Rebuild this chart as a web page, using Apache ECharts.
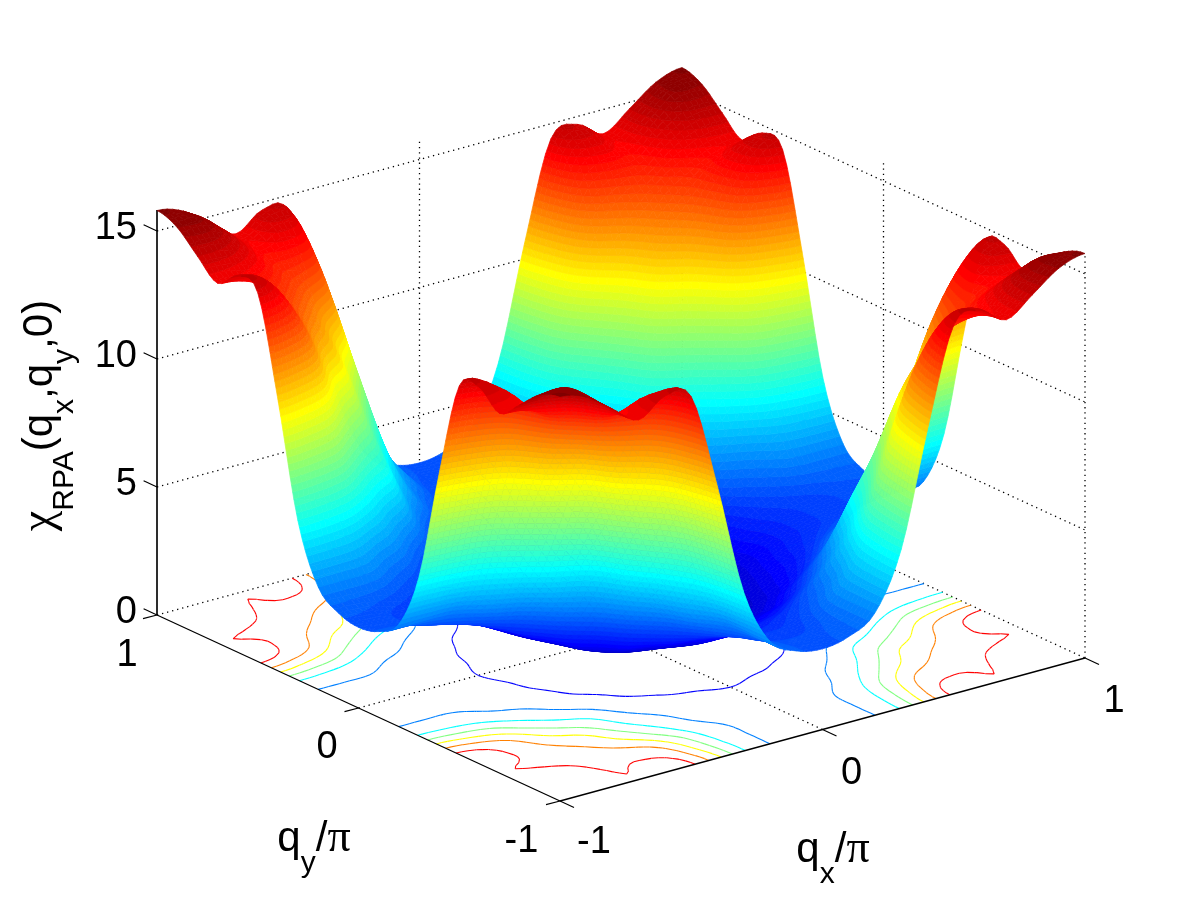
<!DOCTYPE html>
<html><head><meta charset="utf-8">
<style>html,body{margin:0;padding:0;background:#fff}#c{width:1200px;height:900px}</style>
<script src="https://cdn.jsdelivr.net/npm/echarts@6/dist/echarts.min.js"></script>
</head><body><div id="c"></div>
<script>
const qValues=[-1,-0.9,-0.8,-0.7,-0.6,-0.5,-0.4,-0.3,-0.2,-0.1,0,0.1,0.2,0.3,0.4,0.5,0.6,0.7,0.8,0.9,1];
const qTicks=[-1,0,1];
const zTicks=[0,5,10,15];
const contourLevels=[2,4,6,8,10,12,14];
const row00=[15.8,15.5,14.75,14.05,14.7,14.4,10.6,6.2,4.0,3.35,3.15,3.35,4.0,6.2,10.6,14.4,14.7,14.05,14.75,15.5,15.8];
const row01=[15.5,15.5,14.7,13.9,14.3,13.6,9.9,6.0,4.0,3.3,3.1,3.3,4.0,6.0,9.9,13.6,14.3,13.9,14.7,15.5,15.5];
const row02=[14.75,14.7,14.2,13.4,13.0,11.9,8.8,5.5,3.95,3.05,2.9,3.05,3.95,5.5,8.8,11.9,13.0,13.4,14.2,14.7,14.75];
const row03=[14.05,13.9,13.4,12.7,11.4,9.4,6.8,4.5,3.4,2.8,2.7,2.8,3.4,4.5,6.8,9.4,11.4,12.7,13.4,13.9,14.05];
const row04=[14.7,14.3,13.0,11.4,10.0,7.5,5.2,3.8,2.85,2.45,2.3,2.45,2.85,3.8,5.2,7.5,10.0,11.4,13.0,14.3,14.7];
const row05=[14.4,13.6,11.9,9.4,7.5,6.0,4.0,2.8,2.15,1.95,1.75,1.95,2.15,2.8,4.0,6.0,7.5,9.4,11.9,13.6,14.4];
const row06=[10.6,9.9,8.8,6.8,5.2,4.0,2.9,1.9,1.6,1.35,1.2,1.35,1.6,1.9,2.9,4.0,5.2,6.8,8.8,9.9,10.6];
const row07=[6.2,6.0,5.5,4.5,3.8,2.8,1.9,1.4,1.05,0.9,0.8,0.9,1.05,1.4,1.9,2.8,3.8,4.5,5.5,6.0,6.2];
const row08=[4.0,4.0,3.95,3.4,2.85,2.15,1.6,1.05,0.7,0.55,0.5,0.55,0.7,1.05,1.6,2.15,2.85,3.4,3.95,4.0,4.0];
const row09=[3.35,3.3,3.05,2.8,2.45,1.95,1.35,0.9,0.55,0.35,0.3,0.35,0.55,0.9,1.35,1.95,2.45,2.8,3.05,3.3,3.35];
const row10=[3.15,3.1,2.9,2.7,2.3,1.75,1.2,0.8,0.5,0.3,0.2,0.3,0.5,0.8,1.2,1.75,2.3,2.7,2.9,3.1,3.15];
const row11=[3.35,3.3,3.05,2.8,2.45,1.95,1.35,0.9,0.55,0.35,0.3,0.35,0.55,0.9,1.35,1.95,2.45,2.8,3.05,3.3,3.35];
const row12=[4.0,4.0,3.95,3.4,2.85,2.15,1.6,1.05,0.7,0.55,0.5,0.55,0.7,1.05,1.6,2.15,2.85,3.4,3.95,4.0,4.0];
const row13=[6.2,6.0,5.5,4.5,3.8,2.8,1.9,1.4,1.05,0.9,0.8,0.9,1.05,1.4,1.9,2.8,3.8,4.5,5.5,6.0,6.2];
const row14=[10.6,9.9,8.8,6.8,5.2,4.0,2.9,1.9,1.6,1.35,1.2,1.35,1.6,1.9,2.9,4.0,5.2,6.8,8.8,9.9,10.6];
const row15=[14.4,13.6,11.9,9.4,7.5,6.0,4.0,2.8,2.15,1.95,1.75,1.95,2.15,2.8,4.0,6.0,7.5,9.4,11.9,13.6,14.4];
const row16=[14.7,14.3,13.0,11.4,10.0,7.5,5.2,3.8,2.85,2.45,2.3,2.45,2.85,3.8,5.2,7.5,10.0,11.4,13.0,14.3,14.7];
const row17=[14.05,13.9,13.4,12.7,11.4,9.4,6.8,4.5,3.4,2.8,2.7,2.8,3.4,4.5,6.8,9.4,11.4,12.7,13.4,13.9,14.05];
const row18=[14.75,14.7,14.2,13.4,13.0,11.9,8.8,5.5,3.95,3.05,2.9,3.05,3.95,5.5,8.8,11.9,13.0,13.4,14.2,14.7,14.75];
const row19=[15.5,15.5,14.7,13.9,14.3,13.6,9.9,6.0,4.0,3.3,3.1,3.3,4.0,6.0,9.9,13.6,14.3,13.9,14.7,15.5,15.5];
const row20=[15.8,15.5,14.75,14.05,14.7,14.4,10.6,6.2,4.0,3.35,3.15,3.35,4.0,6.2,10.6,14.4,14.7,14.05,14.75,15.5,15.8];
const chiRows=[row00,row01,row02,row03,row04,row05,row06,row07,row08,row09,row10,row11,row12,row13,row14,row15,row16,row17,row18,row19,row20];

const FONT='"Liberation Sans", Arial, sans-serif';
const ZTOP=15.82, CMAX=16;
const C0=[621,636.5], EX=[262.5,-71.5], EY=[-201.5,-93], EZ=-25.6;
function proj(qx,qy,z){return [C0[0]+qx*EX[0]+qy*EY[0], C0[1]+qx*EX[1]+qy*EY[1]+z*EZ];}

function jet(k0){const k=k0+1;const u=i=>i<1||i>47?0:(i<=16?i/16:(i<=31?1:(48-i)/16));
  return 'rgb('+Math.round(255*u(k-24))+','+Math.round(255*u(k-8))+','+Math.round(255*u(k+8))+')';}
const jetCache=[];for(let k=0;k<64;k++)jetCache.push(jet(k));

// smooth drawing mesh through the table values (drawing refinement only)
const SUB=5,N=qValues.length-1,M=N*SUB;
function cr(p0,p1,p2,p3,t){return 0.5*(2*p1+(p2-p0)*t+(2*p0-5*p1+4*p2-p3)*t*t+(3*p1-p0-3*p2+p3)*t*t*t);}
function sample(arr,s){const i=Math.min(Math.floor(s),arr.length-2),t=s-i;
  const a=i>0?arr[i-1]:arr[1],b=arr[i],c=arr[i+1],d=i+2<arr.length?arr[i+2]:arr[arr.length-2];return cr(a,b,c,d,t);}
const tmp=chiRows.map(r=>{const o=[];for(let j=0;j<=M;j++)o.push(sample(r,j/SUB));return o;});
const fine=[];for(let i=0;i<=M;i++){const o=[];for(let j=0;j<=M;j++){o.push(sample(tmp.map(r=>r[j]),i/SUB));}fine.push(o);}
const fq=i=>-1+i/M*2;

function clip(poly,level,above){const out=[];for(let i=0;i<poly.length;i++){const a=poly[i],b=poly[(i+1)%poly.length];
  const ia=above?a[2]>=level:a[2]<=level, ib=above?b[2]>=level:b[2]<=level;
  if(ia)out.push(a);
  if(ia!==ib){const t=(level-a[2])/(b[2]-a[2]);out.push([a[0]+(b[0]-a[0])*t,a[1]+(b[1]-a[1])*t,level]);}}
  return out;}

const cells=[];for(let i=N-1;i>=0;i--)for(let j=N-1;j>=0;j--)cells.push([i,j]);

function renderSurface(params,api){
  const ci=api.value(0),cj=api.value(1);const children=[];const dz=CMAX/64;
  for(let a=SUB-1;a>=0;a--)for(let b=SUB-1;b>=0;b--){
    const i=ci*SUB+a,j=cj*SUB+b;
    const quad=[[fq(i),fq(j),fine[i][j]],[fq(i+1),fq(j),fine[i+1][j]],[fq(i+1),fq(j+1),fine[i+1][j+1]],[fq(i),fq(j+1),fine[i][j+1]]];
    const zs=quad.map(p=>p[2]);
    const k0=Math.max(0,Math.floor(Math.min(...zs)/dz)),k1=Math.min(63,Math.floor(Math.max(...zs)/dz));
    for(let k=k0;k<=k1;k++){
      let poly=quad;
      if(k>k0)poly=clip(poly,k*dz,true);
      if(k<k1&&poly.length)poly=clip(poly,(k+1)*dz,false);
      if(poly.length<3)continue;
      const pts=poly.map(p=>api.coord(proj(p[0],p[1],p[2])));
      children.push({type:'polygon',silent:true,shape:{points:pts},style:{fill:jetCache[k],stroke:jetCache[k],lineWidth:0.7}});
    }
  }
  return {type:'group',children};
}

function renderContour(params,api){
  const L=api.value(0);const col=jetCache[Math.floor(L/CMAX*63)];const children=[];
  const ed=(q1,z1,q2,z2)=>{const t=(L-z1)/(z2-z1);return [q1[0]+(q2[0]-q1[0])*t,q1[1]+(q2[1]-q1[1])*t];};
  for(let i=0;i<M;i++)for(let j=0;j<M;j++){
    const c=[[i,j],[i+1,j],[i+1,j+1],[i,j+1]].map(p=>({q:[fq(p[0]),fq(p[1])],z:fine[p[0]][p[1]]}));
    const cross=[];for(let e=0;e<4;e++){const A=c[e],B=c[(e+1)%4];if((A.z<L)!==(B.z<L))cross.push(ed(A.q,A.z,B.q,B.z));}
    for(let s=0;s+1<cross.length;s+=2){
      const p1=api.coord(proj(cross[s][0],cross[s][1],0)),p2=api.coord(proj(cross[s+1][0],cross[s+1][1],0));
      children.push({type:'line',silent:true,shape:{x1:p1[0],y1:p1[1],x2:p2[0],y2:p2[1]},style:{stroke:col,lineWidth:1.1,fill:null}});
    }
  }
  return {type:'group',children};
}

function lineEl(api,a,b,dotted,w){const p=api.coord(a),q=api.coord(b);
  return {type:'line',silent:true,shape:{x1:p[0],y1:p[1],x2:q[0],y2:q[1]},style:{stroke:'#000',fill:null,lineWidth:dotted?1.3:(w||1),lineDash:dotted?[1.3,3.9]:null}};}

function renderGrid(params,api){
  const ch=[];
  zTicks.forEach(z=>{
    ch.push(lineEl(api,proj(-1,1,z),proj(1,1,z),true));
    ch.push(lineEl(api,proj(1,1,z),proj(1,-1,z),true));
  });
  qTicks.forEach(q=>{
    ch.push(lineEl(api,proj(q,1,0),proj(q,1,ZTOP),q>-1));
    ch.push(lineEl(api,proj(1,q,0),proj(1,q,ZTOP),true));
    if(q===0){
      ch.push(lineEl(api,proj(q,-1,0),proj(q,1,0),true));
      ch.push(lineEl(api,proj(-1,q,0),proj(1,q,0),true));
    }
  });
  return {type:'group',children:ch};
}

function label(api,anchor,dx,dy,text,align){const p=api.coord(anchor);
  return {type:'text',silent:true,x:p[0]+dx,y:p[1]+dy,style:{text:String(text),fill:'#000',font:'38px '+FONT,align:align||'center',verticalAlign:'middle'}};}

function renderAxes(params,api){
  const ch=[];
  ch.push(lineEl(api,proj(-1,-1,0),proj(-1,1,0),false,1.3));
  ch.push(lineEl(api,proj(-1,-1,0),proj(1,-1,0),false,1.3));
  ch.push(lineEl(api,proj(-1,1,0),proj(-1,1,ZTOP),false,1.3));
  zTicks.forEach(z=>{const p=proj(-1,1,z);ch.push(lineEl(api,p,[p[0]-13.4,p[1]-6.2],false,1.2));
    ch.push(label(api,p,-20,-2,z,'right'));});
  qTicks.forEach(q=>{
    const p=proj(-1,q,0);ch.push(lineEl(api,p,[p[0]-14,p[1]+3.7],false,1.2));
    ch.push(label(api,p,q===-1?-38.5:(q===0?-31.5:-30),q===-1?40.5:(q===0?40:41),q));
    const r=proj(q,-1,0);ch.push(lineEl(api,r,[r[0]+14,r[1]+6.5],false,1.2));
    ch.push(label(api,r,q===-1?34:29,q===-1?42:44,q));
  });
  const titleRich={b:{font:'42px '+FONT,fill:'#000',verticalAlign:'middle',lineHeight:80},
                   g:{font:'46px "Liberation Serif", serif',fill:'#000',verticalAlign:'middle',lineHeight:80},
                   s:{font:'30px '+FONT,fill:'#000',verticalAlign:'bottom',lineHeight:80}};
  const yl=api.coord([314,839]),xl=api.coord([833,850]),zl=api.coord([40,415.5]);
  ch.push({type:'text',silent:true,x:yl[0],y:yl[1],style:{text:'{b|q}{s|y}{b|/}{g|π}',rich:titleRich,align:'center',verticalAlign:'middle'}});
  ch.push({type:'text',silent:true,x:xl[0],y:xl[1],style:{text:'{b|q}{s|x}{b|/}{g|π}',rich:titleRich,align:'center',verticalAlign:'middle'}});
  ch.push({type:'text',silent:true,x:zl[0],y:zl[1],rotation:Math.PI/2,style:{text:'{g|χ}{s|RPA}{b|(q}{s|x}{b|,q}{s|y}{b|,0)}',rich:titleRich,align:'center',verticalAlign:'middle'}});
  return {type:'group',children:ch};
}

const base={type:'custom',coordinateSystem:'cartesian2d',animation:false,silent:true,clip:false,progressive:0,tooltip:{show:false}};
const chart=echarts.init(document.getElementById('c'),null,{renderer:'canvas',width:1200,height:900});
chart.setOption({
  backgroundColor:'#fff',animation:false,
  grid:{left:0,right:0,top:0,bottom:0},
  xAxis:{type:'value',min:0,max:1200,show:false},
  yAxis:{type:'value',min:0,max:900,inverse:true,show:false},
  series:[
    Object.assign({},base,{renderItem:renderGrid,data:[[0,0]],encode:{x:0,y:1}}),
    Object.assign({},base,{renderItem:renderContour,data:contourLevels.map(l=>[l,0]),encode:{x:0,y:1}}),
    Object.assign({},base,{renderItem:renderAxes,data:[[0,0]],encode:{x:0,y:1}}),
    Object.assign({},base,{renderItem:renderSurface,data:cells,encode:{x:0,y:1}})
  ]
});
</script></body></html>
